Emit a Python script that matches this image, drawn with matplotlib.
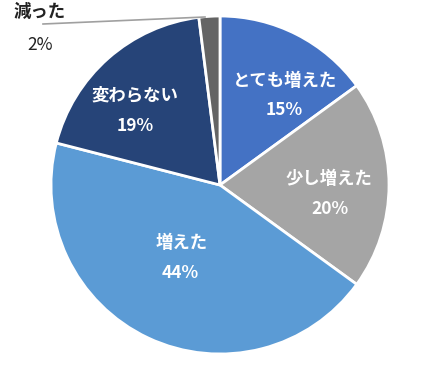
import matplotlib
matplotlib.use("Agg")
import matplotlib.pyplot as plt

plt.rcParams['font.family'] = ['Noto Sans CJK JP', 'DejaVu Sans']

labels = ['とても増えた', '少し増えた', '増えた', '変わらない', '減った']
values = [15, 20, 44, 19, 2]
colors = ['#4472C4', '#A5A5A5', '#5B9BD5', '#264478', '#646464']

# figure 440x370 px, pie centre at (220, 185) px, radius 170 px
W, H = 440, 370
CX, CY, R = 220, 185, 169


def px(x, y):
    """pixel position -> data coords (pie radius = 1)"""
    return (x - CX) / R, (CY - y) / R


fig = plt.figure(figsize=(W / 100, H / 100), dpi=100)
ax = fig.add_axes([0, 0, 1, 1])
ax.pie(values, colors=colors, startangle=90, counterclock=False,
       radius=1.0, wedgeprops=dict(edgecolor='white', linewidth=2))
ax.set_xlim(-CX / R, (W - CX) / R)
ax.set_ylim(-(H - CY) / R, CY / R)
ax.set_aspect('auto')
ax.axis('off')

# inside labels (name on top, percent below)
inside = {
    0: (285, 81, 284, 110),
    1: (329, 179, 330, 209),
    2: (182, 243, 180, 273),
    3: (135, 95, 135, 126),
}
for i, (x1, y1, x2, y2) in inside.items():
    ax.text(*px(x1, y1), labels[i], color='white', fontsize=12.5,
            fontweight='bold', ha='center', va='center')
    ax.text(*px(x2, y2), f'{values[i]}%', color='white', fontsize=12.5,
            fontweight='bold', ha='center', va='center')

# outside label with leader line for the small slice
ax.plot(*zip(px(43, 24), px(205, 17)), color='#A0A0A0', lw=1.2)
ax.text(*px(40, 12), labels[4], color='#222222', fontsize=12.5,
        fontweight='bold', ha='center', va='center')
ax.text(*px(40, 45), f'{values[4]}%', color='#222222', fontsize=12.5,
        ha='center', va='center')

fig.savefig('out.png', dpi=100)
